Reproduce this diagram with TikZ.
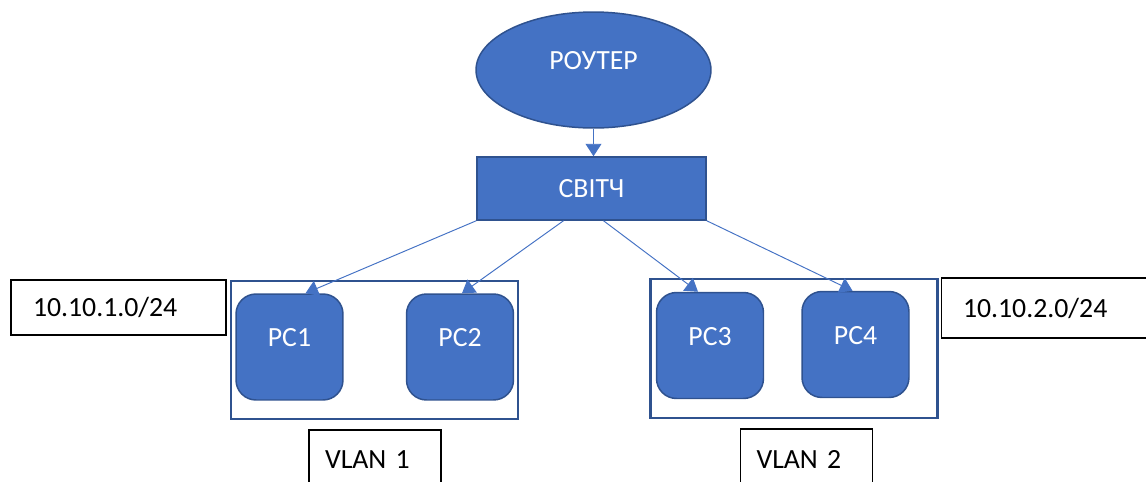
\documentclass[tikz,border=0pt]{standalone}
\usepackage{fontspec}
\setmainfont{Carlito}
\usepackage{xcolor}
\usetikzlibrary{shapes,arrows.meta,positioning,calc}
\definecolor{netblue}{HTML}{4472C4}
\definecolor{netedge}{HTML}{2F528F}

\begin{document}
\begin{tikzpicture}[
    x=0.02cm, y=-0.02cm,
    font=\fontsize{15.8}{19}\selectfont,
    dev/.style={fill=netblue, draw=netedge, line width=0.85pt, text=white, align=center},
    pc/.style={dev, rectangle, rounded corners=0.4cm, minimum width=2.14cm, minimum height=2.12cm, text depth=0.38cm},
    vlan/.style={rectangle, draw=netedge, line width=1.2pt, minimum width=5.74cm, minimum height=2.77cm},
    ip/.style={rectangle, draw, line width=0.6pt, text width=3.42cm, inner xsep=0.44cm, align=left},
    tag/.style={rectangle, draw, line width=0.6pt, minimum height=1.2cm, text width=2cm, inner xsep=0.32cm, align=left},
    arrow/.style={-{Triangle[width=0.32cm,length=0.25cm]}, draw=netblue, line width=0.55pt}
]
\useasboundingbox (0,0) rectangle (1146,481);

\node[dev, ellipse, minimum width=4.7cm, minimum height=2.32cm, text depth=0.4cm] (router) at (593.5,70) {РОУТЕР};
\node[dev, rectangle, minimum width=4.58cm, minimum height=1.26cm] (sw) at (591.5,188.5) {СВІТЧ};

\node[vlan] (grp1) at (374.5,350) {};
\node[vlan] (grp2) at (794,348.5) {};
\node[pc] (pc1) at (289.5,347) {PC1};
\node[pc] (pc2) at (460,347) {PC2};
\node[pc] (pc3) at (710,345.5) {PC3};
\node[pc] (pc4) at (855.5,344.5) {PC4};

\node[ip, minimum height=1.1cm] (ip1) at (118.5,307.5) {10.10.1.0/24};
\node[ip, minimum height=1.2cm] (ip2) at (1048.5,308) {10.10.2.0/24};
\node[tag] (vl1) at (375,460) {VLAN 1};
\node[tag] (vl2) at (806.5,459) {VLAN 2};

\draw[arrow] (router.south) -- (router.south |- sw.north);
\draw[arrow] (sw.south west) -- ($(pc1.north)+(16,0)$);
\draw[arrow] ($(sw.south)+(-28,0)$) -- ($(pc2.north)+(2,0)$);
\draw[arrow] ($(sw.south)+(12,0)$) -- ($(pc3.north)+(-12,0)$);
\draw[arrow] (sw.south east) -- ($(pc4.north)+(-3,0)$);
\end{tikzpicture}
\end{document}
